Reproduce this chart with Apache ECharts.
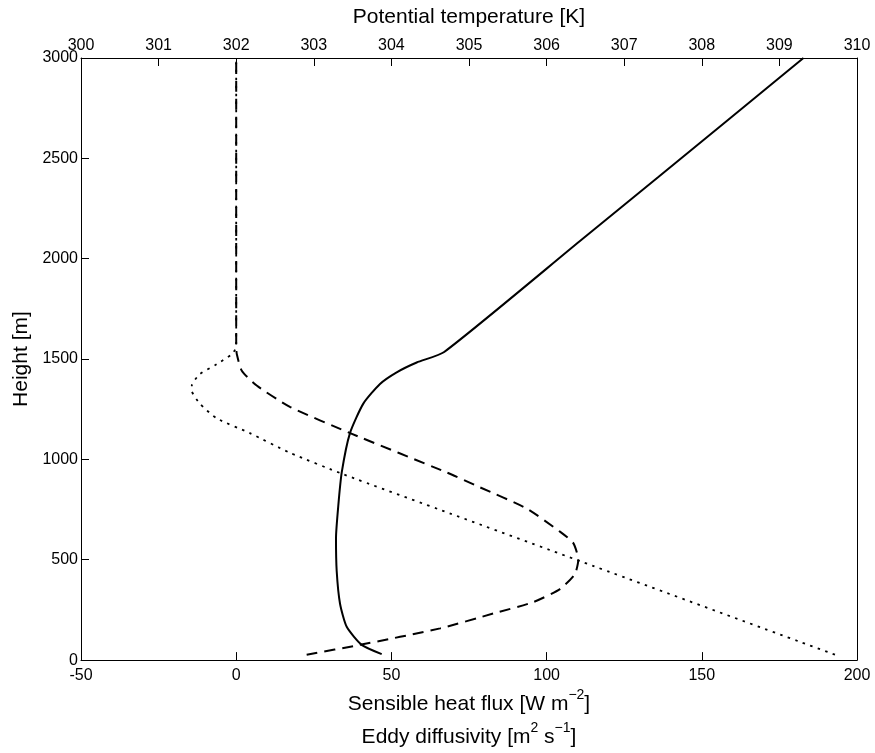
<!DOCTYPE html>
<html>
<head>
<meta charset="utf-8">
<script src="https://cdn.jsdelivr.net/npm/echarts@6/dist/echarts.min.js"></script>
<style>
  html, body { margin: 0; padding: 0; background: #fff; }
  #chart { width: 875px; height: 753px; }
</style>
</head>
<body>
<div id="chart"></div>
<script>
// Potential temperature profile (top axis, K)
const thetaHeight = [30, 76, 166, 281, 444, 607, 771, 935, 1131, 1278, 1376, 1434, 1483, 1535, 2088, 2407, 3000];
const thetaValue  = [303.875, 303.617, 303.424, 303.338, 303.295, 303.286, 303.316, 303.36, 303.466, 303.638, 303.853, 304.068, 304.326, 304.68, 306.43, 307.44, 309.31];

// Sensible heat flux profile (bottom axis, W m-2)
const fluxHeight = [27, 76, 158, 232, 289, 354, 428, 501, 583, 640, 755, 861, 935, 1131, 1262, 1368, 1442, 1524, 1560, 3000];
const fluxValue  = [22.7, 39.9, 65.7, 82.8, 95.7, 104.3, 109.1, 110.2, 108.6, 104.3, 93.6, 78.5, 67.8, 36.7, 17.3, 6.6, 1.8, 0.2, 0, 0];

// Eddy diffusivity profile (bottom axis, m2 s-1)
const diffHeight = [27, 492, 730, 926, 1033, 1131, 1205, 1278, 1343, 1368, 1425, 1474, 1524, 1560, 3000];
const diffValue  = [192.9, 111.0, 69.0, 34.5, 17.3, 4.4, -6.3, -11.7, -14.3, -14.3, -11.7, -6.3, -1.45, 0, 0];

// Axis ranges and tick spacing
const fluxRange = [-50, 200], fluxStep = 50;
const thetaRange = [300, 310], thetaStep = 1;
const heightRange = [0, 3000], heightStep = 500;

const pairs = (xs, ys) => xs.map((x, i) => [x, ys[i]]);
const plain = v => String(v);

const FONT = '"Liberation Sans", Arial, Helvetica, sans-serif';
const black = '#000';

const baseAxis = {
  axisLine: { show: true, onZero: false, lineStyle: { color: black, width: 1 } },
  axisTick: { show: true, inside: true, length: 8, lineStyle: { color: black, width: 1 } },
  splitLine: { show: false },
  axisLabel: { color: black, fontFamily: FONT, fontSize: 16, formatter: plain }
};

const chart = echarts.init(document.getElementById('chart'), null, { renderer: 'canvas' });

chart.setOption({
  animation: false,
  backgroundColor: '#fff',
  grid: { left: 81, right: 18, top: 58, bottom: 83, containLabel: false },
  xAxis: [
    Object.assign({}, baseAxis, {
      type: 'value', position: 'bottom',
      min: fluxRange[0], max: fluxRange[1], interval: fluxStep,
      axisLabel: Object.assign({}, baseAxis.axisLabel, { margin: 7 }),
      name: '{t|Sensible heat flux [W m}{s|\u22122}{t|]}\n{t|Eddy diffusivity [m}{s|2}{t| s}{s|\u22121}{t|]}',
      nameLocation: 'middle', nameGap: 26,
      nameTextStyle: {
        color: black, fontFamily: FONT, align: 'center',
        rich: {
          t: { fontSize: 21, fontFamily: FONT, color: black, lineHeight: 33 },
          s: { fontSize: 14, fontFamily: FONT, color: black, lineHeight: 18, verticalAlign: 'top' }
        }
      }
    }),
    Object.assign({}, baseAxis, {
      type: 'value', position: 'top',
      min: thetaRange[0], max: thetaRange[1], interval: thetaStep,
      axisLabel: Object.assign({}, baseAxis.axisLabel, { margin: 4 }),
      name: 'Potential temperature [K]',
      nameLocation: 'middle', nameGap: 30,
      nameTextStyle: { color: black, fontFamily: FONT, fontSize: 21 }
    })
  ],
  yAxis: [
    Object.assign({}, baseAxis, {
      type: 'value', position: 'left',
      min: heightRange[0], max: heightRange[1], interval: heightStep,
      axisLabel: Object.assign({}, baseAxis.axisLabel, { margin: 3 }),
      name: 'Height [m]',
      nameLocation: 'middle', nameGap: 47,
      nameTextStyle: { color: black, fontFamily: FONT, fontSize: 21 }
    }),
    {
      type: 'value', position: 'right',
      min: heightRange[0], max: heightRange[1],
      axisLine: { show: true, onZero: false, lineStyle: { color: black, width: 1 } },
      axisTick: { show: false }, axisLabel: { show: false }, splitLine: { show: false }
    }
  ],
  series: [
    {
      name: 'Potential temperature', type: 'line',
      xAxisIndex: 1, yAxisIndex: 0,
      data: pairs(thetaValue, thetaHeight),
      showSymbol: false, smooth: 0.2,
      lineStyle: { color: black, width: 2, type: 'solid' },
      silent: true
    },
    {
      name: 'Sensible heat flux', type: 'line',
      xAxisIndex: 0, yAxisIndex: 0,
      data: pairs(fluxValue, fluxHeight),
      showSymbol: false, smooth: 0.2,
      lineStyle: { color: black, width: 2, type: [11, 7] },
      silent: true
    },
    {
      name: 'Eddy diffusivity', type: 'line',
      xAxisIndex: 0, yAxisIndex: 0,
      data: pairs(diffValue, diffHeight),
      showSymbol: false, smooth: 0.2,
      lineStyle: { color: black, width: 1.8, type: [2.5, 5.5] },
      silent: true
    }
  ]
});
</script>
</body>
</html>
